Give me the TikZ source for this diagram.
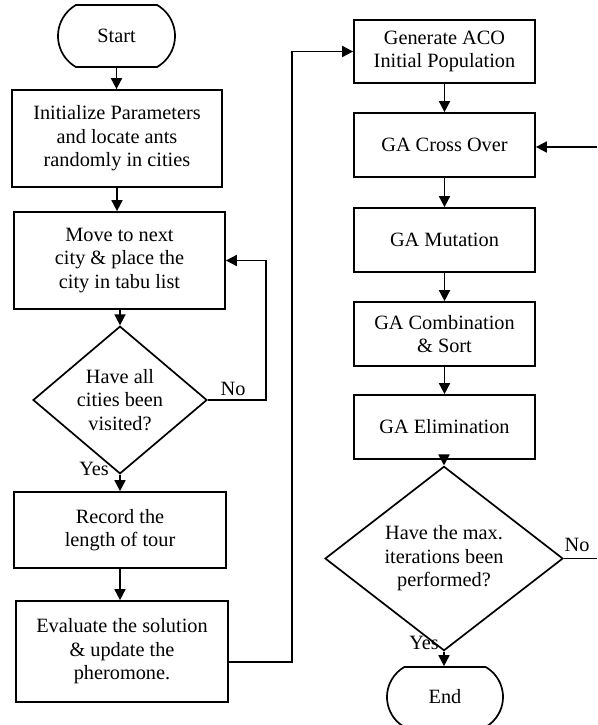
\documentclass[tikz,border=0pt]{standalone}
\usepackage{fontspec}
\setmainfont{Liberation Serif}
\usetikzlibrary{shapes.geometric,shapes.misc,arrows.meta}
\begin{document}
\begin{tikzpicture}[x=1pt,y=-1pt,
  every node/.style={font=\fontsize{20.3}{23.5}\selectfont},
  box/.style={draw,line width=1.7pt,align=center,inner sep=0pt},
  term/.style={draw,line width=1.7pt,rounded rectangle,rounded rectangle arc length=120,inner sep=0pt,align=center},
  dec/.style={draw,line width=1.7pt,diamond,inner sep=0pt,align=center},
  arr/.style={line width=1.7pt,-{Triangle[length=11pt,width=11pt]}},
  ln/.style={line width=1.7pt},
  lbl/.style={inner sep=0pt}]
\useasboundingbox (0,0) rectangle (597,725);
% left column
\node[term,minimum width=117pt,minimum height=62pt] (start) at (116.5,36) {Start};
\node[box,minimum width=210pt,minimum height=97pt] (init) at (117,138.5) {Initialize Parameters\\and locate ants\\randomly in cities};
\node[box,minimum width=211pt,minimum height=97pt] (move) at (119.5,260.5) {Move to next\\city \& place the\\city in tabu list};
\node[dec,minimum width=174pt,minimum height=116pt] (d1) at (120,400) {Have all\\cities been\\visited?};
\node[box,minimum width=212pt,minimum height=76pt] (rec) at (120,530) {Record the\\length of tour};
\node[box,minimum width=212pt,minimum height=101pt] (eval) at (122,651.5) {Evaluate the solution\\\& update the\\pheromone.};
% right column
\node[box,minimum width=181pt,minimum height=63pt] (gen) at (444.5,51.5) {Generate ACO\\Initial Population};
\node[box,minimum width=181pt,minimum height=64pt] (cross) at (444.5,145) {GA Cross Over};
\node[box,minimum width=181pt,minimum height=64pt] (mut) at (444.5,240) {GA Mutation};
\node[box,minimum width=181pt,minimum height=64pt] (comb) at (444.5,334) {GA Combination\\\& Sort};
\node[box,minimum width=181pt,minimum height=64pt] (elim) at (444.5,427) {GA Elimination};
\node[dec,minimum width=238pt,minimum height=137pt] (d2) at (444,558.5) {Have the max.\\iterations been\\performed?};
\node[term,minimum width=116pt,minimum height=60pt] (end) at (445,697) {End};
% coordinates
\coordinate (c1) at (266,400);
\coordinate (c2) at (292,662);
\coordinate (c3) at (597,558.5);
\coordinate (c4) at (597,147);
% connectors left
\draw[arr] (start.south) -- (start.south |- init.north);
\draw[arr] (init.south) -- (init.south |- move.north);
\draw[arr] (d1.north |- move.south) -- (d1.north);
\draw[arr] (d1.south) -- (d1.south |- rec.north);
\draw[arr] (rec.south) -- (rec.south |- eval.north);
\draw[arr] (d1.east) -- (c1) |- (move.east);
\draw[arr] (eval.east |- c2) -- (c2) |- (gen.west);
% connectors right
\draw[arr] (gen.south) -- (cross.north);
\draw[arr] (cross.south) -- (mut.north);
\draw[arr] (mut.south) -- (comb.north);
\draw[arr] (comb.south) -- (elim.north);
\draw[arr] (elim.south -| d2.north) -- (d2.north);
\draw[arr] (d2.south) -- (d2.south |- end.north);
\draw[ln] (d2.east) -- (c3);
\draw[arr] (c4) -- (cross.east |- c4);
% labels
\node[lbl] (no1) at (233,389) {No};
\node[lbl,anchor=east] (yes1) at (109,469) {Yes};
\node[lbl] (no2) at (577,545) {No};
\node[lbl,anchor=east] (yes2) at (439,643) {Yes};
\end{tikzpicture}
\end{document}
